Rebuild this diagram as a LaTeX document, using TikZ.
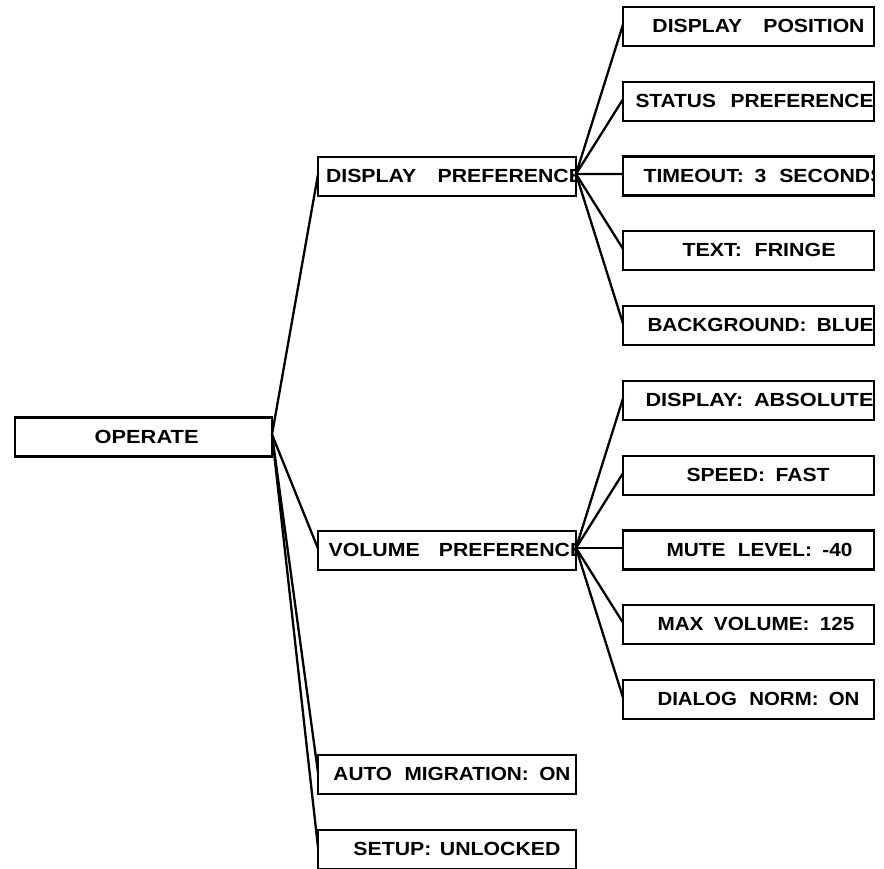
\documentclass[tikz,border=0pt]{standalone}
\usepackage{fontspec}
\setmainfont{Liberation Sans}
\usepackage{graphicx}
\newcommand\menufont{\fontsize{19}{21}\selectfont\bfseries}

\begin{document}
\begin{tikzpicture}[x=1pt,y=-1pt,
  box/.style={draw,line width=2.4pt,minimum width=258pt,minimum height=39pt,
    inner sep=0pt,outer sep=0pt},
  sub/.style={box,minimum width=251pt},
  link/.style={line width=2.3pt},
  % centred label: x offset of text centre from the box's left side, width, text
  ctext/.style n args={3}{path picture={
    \node[anchor=base,inner sep=0pt,font=\menufont]
      at ([shift={(#1,25.6)}]path picture bounding box.north west)
      {\resizebox{#2pt}{\height}{#3}};}},
  % left-set label, cut off by the box outline
  ltext/.style 2 args={path picture={
    \node[anchor=base west,inner sep=0pt,font=\menufont]
      at ([shift={(#1,25.6)}]path picture bounding box.north west)
      {\scalebox{1.12}[1]{#2}};}},
]
\useasboundingbox (0,0) rectangle (884,869);

% root
\node[box,minimum width=257pt,ctext={131.6}{104}{OPERATE}] (op) at (143.5,437) {};

% second level
\node[box,ltext={7.5}{DISPLAY\hspace{1em}PREFERENCE}] (dp) at (447,176.5) {};
\node[box,ltext={9.5}{VOLUME\hspace{.9em}PREFERENCE}] (vp) at (447,550.5) {};
\node[box,ctext={134}{237}{AUTO\hspace{.6em}MIGRATION:\hspace{.5em}ON}] (am) at (447,774.5) {};
\node[box,ctext={139}{207}{SETUP:\hspace{.4em}UNLOCKED}] (su) at (447,849.5) {};

% display preference entries
\node[sub,ctext={135.5}{212}{DISPLAY\hspace{1em}POSITION}] (d1) at (748.5,26.5) {};
\node[sub,ctext={131.5}{238}{STATUS\hspace{.7em}PREFERENCE}] (d2) at (748.5,101.3) {};
\node[sub,ltext={15.5}{TIMEOUT:\hspace{.5em}3\hspace{.6em}SECONDS}] (d3) at (748.5,176.1) {};
\node[sub,ctext={136}{153}{TEXT:\hspace{.6em}FRINGE}] (d4) at (748.5,250.8) {};
\node[sub,ctext={137.5}{226}{BACKGROUND:\hspace{.5em}BLUE}] (d5) at (748.5,325.6) {};

% volume preference entries
\node[sub,ctext={136.5}{228}{DISPLAY:\hspace{.5em}ABSOLUTE}] (v1) at (748.5,400.4) {};
\node[sub,ctext={135}{143}{SPEED:\hspace{.5em}FAST}] (v2) at (748.5,475.2) {};
\node[sub,ctext={136.5}{186}{MUTE\hspace{.6em}LEVEL:\hspace{.5em}-40}] (v3) at (748.5,550.0) {};
\node[sub,ctext={133}{197}{MAX\hspace{.5em}VOLUME:\hspace{.5em}125}] (v4) at (748.5,624.7) {};
\node[sub,ctext={135.5}{202}{DIALOG\hspace{.6em}NORM:\hspace{.5em}ON}] (v5) at (748.5,699.5) {};

% connectors
\foreach \c in {dp,vp,am,su}
  \draw[link] ([yshift=2.5pt]op.east) -- ([yshift=2pt]\c.west);
\foreach \c in {d1,d2,d3,d4,d5}
  \draw[link] ([yshift=2.5pt]dp.east) -- ([yshift=2pt]\c.west);
\foreach \c in {v1,v2,v3,v4,v5}
  \draw[link] ([yshift=2.5pt]vp.east) -- ([yshift=2pt]\c.west);
\end{tikzpicture}
\end{document}
